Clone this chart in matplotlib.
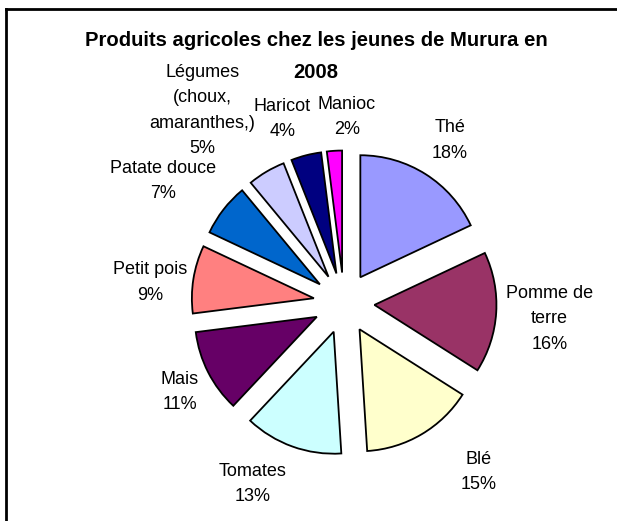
import numpy as np
import matplotlib
matplotlib.use("Agg")
import matplotlib.pyplot as plt
from matplotlib.lines import Line2D

plt.rcParams['font.family'] = ['Liberation Sans', 'DejaVu Sans']

# data
labels = ['Thé', 'Pomme de\nterre', 'Blé', 'Tomates', 'Mais', 'Petit pois',
          'Patate douce', 'Légumes\n(choux,\namaranthes,)', 'Haricot', 'Manioc']
values = [18, 16, 15, 13, 11, 9, 7, 5, 4, 2]
colors = ['#9999FF', '#993366', '#FFFFCC', '#CCFFFF', '#660066', '#FF8080',
          '#0066CC', '#CCCCFF', '#000080', '#FF00FF']
title_lines = ['Produits agricoles chez les jeunes de Murura en', '2008']

# label placement: (distance in radii, clockwise angle tweak in degrees)
label_pos = [(1.59, 0.6), (1.69, 0.8), (1.77, -7.8), (1.66, 7), (1.53, -1.5),
             (1.60, -3), (1.79, -3.9), (1.96, -5.7), (1.59, -4.2), (1.525, 4.5)]

R = 122.0  # px per radius
cx, cy = 344, 303  # pie centre in px from top-left
W, H = 617, 521

fig = plt.figure(figsize=(W / 100, H / 100), dpi=100)
ax = fig.add_axes([0, 0, 1, 1])

wedges, _ = ax.pie(values, colors=colors, startangle=90, counterclock=False,
                   explode=[0.25] * len(values), radius=1.0,
                   wedgeprops=dict(edgecolor='black', linewidth=1.3),
                   labels=None, frame=True)
ax.set_xlim(-cx / R, (W - cx) / R)
ax.set_ylim(-(H - cy) / R, cy / R)
ax.set_aspect('equal')
ax.axis('off')

for w, lab, v, (d, tw) in zip(wedges, labels, values, label_pos):
    ang = np.deg2rad((w.theta1 + w.theta2) / 2 - tw)
    ax.text(d * np.cos(ang), d * np.sin(ang), f'{lab}\n{v}%',
            ha='center', va='center', fontsize=13, linespacing=1.65)

# title, two lines
for line, ypix in zip(title_lines, [41, 72]):
    fig.text(316 / W, 1 - ypix / H, line, ha='center', va='center',
             fontsize=14.6, fontweight='bold')

# chart area border (top and left visible)
fig.add_artist(Line2D([6 / W, 6 / W], [0, 1 - 9 / H], color='black', lw=2,
                      transform=fig.transFigure))
fig.add_artist(Line2D([6 / W, 1], [1 - 9 / H, 1 - 9 / H], color='black', lw=2,
                      transform=fig.transFigure))

fig.savefig('out.png', dpi=100)
